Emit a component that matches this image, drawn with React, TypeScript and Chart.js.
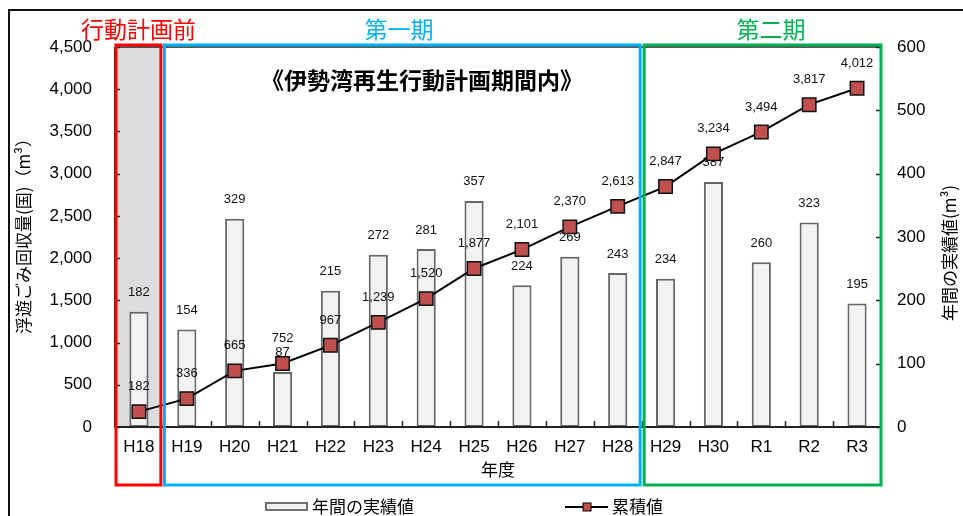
import React, { useEffect, useRef } from "react";
import { Chart, registerables } from "chart.js";

Chart.register(...registerables);

// ---- data ----
const categories = ["H18", "H19", "H20", "H21", "H22", "H23", "H24", "H25", "H26", "H27", "H28", "H29", "H30", "R1", "R2", "R3"];
const annualValues = [182, 154, 329, 87, 215, 272, 281, 357, 224, 269, 243, 234, 387, 260, 323, 195];
const cumulativeValues = [182, 336, 665, 752, 967, 1239, 1520, 1877, 2101, 2370, 2613, 2847, 3234, 3494, 3817, 4012];
const leftTickValues = [0, 500, 1000, 1500, 2000, 2500, 3000, 3500, 4000, 4500];
const rightTickValues = [0, 100, 200, 300, 400, 500, 600];
const periodLabels = ["行動計画前", "第一期", "第二期"];
const periodStart = [0, 1, 11];
const periodEnd = [0, 10, 15];
const annualLabel = "年間の実績値";
const cumulativeLabel = "累積値";
const titleText = "《伊勢湾再生行動計画期間内》";
const leftAxisTitle = "浮遊ごみ回収量(国)（m³）";
const rightAxisTitle = "年間の実績値(m³)";
const xAxisTitle = "年度";

const FONT = "'Liberation Sans', 'Noto Sans CJK JP', sans-serif";
const JP = "'Noto Sans CJK JP', 'Liberation Sans', sans-serif";
const periodColors = ["#ff0000", "#00b0f0", "#00b050"];
const fmt = (v: number) => v.toLocaleString("en-US");

const decorPlugin = {
  id: "decor",
  beforeDatasetsDraw(chart: any) {
    const { ctx, chartArea: a, scales } = chart;
    const x = scales.x;
    const half = (x.getPixelForValue(1) - x.getPixelForValue(0)) / 2;
    const l = x.getPixelForValue(0) - half;
    ctx.save();
    ctx.fillStyle = "#dcdcdc";
    ctx.fillRect(l, a.top, 2 * half - 2, a.bottom - a.top);
    ctx.restore();
  },
  afterDatasetDraw(chart: any, args: any) {
    if (args.index !== 1) return;
    const { ctx } = chart;
    const meta = chart.getDatasetMeta(1);
    ctx.save();
    ctx.font = `13px ${FONT}`;
    ctx.fillStyle = "#111";
    ctx.textAlign = "center";
    ctx.textBaseline = "middle";
    meta.data.forEach((el: any, i: number) => {
      ctx.fillText(fmt(annualValues[i]), el.x, el.y - 19);
    });
    ctx.restore();
  },
  afterDatasetsDraw(chart: any) {
    const { ctx, chartArea: a, scales } = chart;
    const x = scales.x;
    const y = scales.y;
    const y1 = scales.y1;
    const half = (x.getPixelForValue(1) - x.getPixelForValue(0)) / 2;

    // cumulative labels
    const meta = chart.getDatasetMeta(0);
    ctx.save();
    ctx.font = `13px ${FONT}`;
    ctx.fillStyle = "#111";
    ctx.textAlign = "center";
    ctx.textBaseline = "middle";
    meta.data.forEach((el: any, i: number) => {
      ctx.fillText(fmt(cumulativeValues[i]), el.x, el.y - 25);
    });
    ctx.restore();

    // plot frame & axes
    ctx.save();
    ctx.strokeStyle = "#222";
    ctx.lineWidth = 1.5;
    ctx.beginPath();
    ctx.moveTo(a.left, a.top);
    ctx.lineTo(a.right, a.top);
    ctx.stroke();
    ctx.lineWidth = 2;
    ctx.beginPath();
    ctx.moveTo(a.left, a.top);
    ctx.lineTo(a.left, a.bottom);
    ctx.lineTo(a.right, a.bottom);
    ctx.lineTo(a.right, a.top);
    ctx.stroke();
    // tick marks (inward)
    ctx.lineWidth = 1.5;
    ctx.beginPath();
    leftTickValues.forEach((v) => {
      const py = Math.round(y.getPixelForValue(v)) + 0.5;
      ctx.moveTo(a.left, py);
      ctx.lineTo(a.left + 5, py);
    });
    rightTickValues.forEach((v) => {
      const py = Math.round(y1.getPixelForValue(v)) + 0.5;
      ctx.moveTo(a.right - 5, py);
      ctx.lineTo(a.right, py);
    });
    for (let i = 1; i < categories.length; i++) {
      const px = Math.round(x.getPixelForValue(i) - half) + 0.5;
      ctx.moveTo(px, a.bottom);
      ctx.lineTo(px, a.bottom - 6);
    }
    ctx.stroke();
    ctx.restore();

    // period rectangles and labels
    ctx.save();
    ctx.lineWidth = 3;
    const insetL = [1, 1.5, 2.5];
    const insetR = [2, 1.5, 0];
    periodLabels.forEach((lab, k) => {
      const l = x.getPixelForValue(periodStart[k]) - half + insetL[k];
      const r = x.getPixelForValue(periodEnd[k]) + half - insetR[k];
      const t = a.top - 2;
      const b = a.bottom + 58;
      ctx.strokeStyle = periodColors[k];
      ctx.strokeRect(l, t, r - l, b - t);
      ctx.fillStyle = periodColors[k];
      ctx.font = `23px ${JP}`;
      ctx.textAlign = "center";
      ctx.textBaseline = "middle";
      const cx = k === 0 ? (l + r) / 2 : k === 1 ? 399 : 771;
      ctx.fillText(lab, cx, 29);
    });
    ctx.restore();

    // title
    ctx.save();
    ctx.fillStyle = "#000";
    ctx.font = `bold 23px ${JP}`;
    ctx.textAlign = "center";
    ctx.textBaseline = "middle";
    ctx.fillText(titleText, 422, 80);

    // axis titles
    ctx.font = `17px ${JP}`;
    ctx.fillText(xAxisTitle, (a.left + a.right) / 2, 470);
    ctx.save();
    ctx.translate(24, 232);
    ctx.rotate(-Math.PI / 2);
    ctx.fillText(leftAxisTitle, 0, 0);
    ctx.restore();
    ctx.save();
    ctx.translate(950, 253);
    ctx.rotate(-Math.PI / 2);
    ctx.fillText(rightAxisTitle, 0, 0);
    ctx.restore();

    // legend
    ctx.fillStyle = "#f2f2f2";
    ctx.strokeStyle = "#707070";
    ctx.lineWidth = 2;
    ctx.fillRect(266, 503, 41, 7);
    ctx.strokeRect(266, 503, 41, 7);
    ctx.fillStyle = "#000";
    ctx.textAlign = "left";
    ctx.font = `17px ${JP}`;
    ctx.fillText(annualLabel, 312, 507);
    ctx.strokeStyle = "#000";
    ctx.lineWidth = 2;
    ctx.beginPath();
    ctx.moveTo(565, 507);
    ctx.lineTo(608, 507);
    ctx.stroke();
    ctx.fillStyle = "#c0504d";
    ctx.lineWidth = 1;
    ctx.fillRect(583, 503, 8, 8);
    ctx.strokeRect(583, 503, 8, 8);
    ctx.fillStyle = "#000";
    ctx.fillText(cumulativeLabel, 612, 507);

    // outer frame
    ctx.strokeStyle = "#111";
    ctx.lineWidth = 2;
    ctx.beginPath();
    ctx.moveTo(9, 516);
    ctx.lineTo(9, 10);
    ctx.lineTo(963, 10);
    ctx.stroke();
    ctx.restore();
  },
};

export default function App() {
  const ref = useRef<HTMLCanvasElement | null>(null);
  useEffect(() => {
    if (!ref.current) return;
    const chart = new Chart(ref.current, {
      type: "bar",
      data: {
        labels: categories,
        datasets: [
          {
            type: "line",
            label: cumulativeLabel,
            data: cumulativeValues,
            yAxisID: "y",
            borderColor: "#000",
            borderWidth: 2,
            pointStyle: "rect",
            pointRadius: 9.5,
            pointBackgroundColor: "#c0504d",
            pointBorderColor: "#111",
            pointBorderWidth: 1.5,
            tension: 0,
            order: 1,
          } as any,
          {
            type: "bar",
            label: annualLabel,
            data: annualValues,
            yAxisID: "y1",
            backgroundColor: "#f2f2f2",
            borderColor: "#666666",
            borderWidth: 2,
            borderSkipped: false,
            categoryPercentage: 1,
            barPercentage: 0.4,
            order: 2,
          } as any,
        ],
      },
      options: {
        responsive: false,
        animation: false,
        devicePixelRatio: 1,
        layout: { padding: { top: 47, left: 0, right: 0, bottom: 0 } },
        plugins: { legend: { display: false }, tooltip: { enabled: false }, title: { display: false } },
        scales: {
          x: {
            type: "category",
            offset: true,
            grid: { display: false, drawTicks: false },
            border: { display: false },
            ticks: { font: { size: 17, family: FONT }, color: "#000", padding: 10, maxRotation: 0, autoSkip: false },
            afterFit(s: any) { s.height = 89; },
          },
          y: {
            type: "linear",
            position: "left",
            min: 0,
            max: 4500,
            afterBuildTicks(s: any) { s.ticks = leftTickValues.map((v) => ({ value: v })); },
            ticks: { font: { size: 17, family: FONT }, color: "#000", padding: 23, callback: (v: any) => fmt(Number(v)) },
            grid: { display: false, drawTicks: false },
            border: { display: false },
            afterFit(s: any) { s.width = 115; },
          },
          y1: {
            type: "linear",
            position: "right",
            min: 0,
            max: 600,
            afterBuildTicks(s: any) { s.ticks = rightTickValues.map((v) => ({ value: v })); },
            ticks: { font: { size: 17, family: FONT }, color: "#000", padding: 16, callback: (v: any) => fmt(Number(v)) },
            grid: { display: false, drawTicks: false },
            border: { display: false },
            afterFit(s: any) { s.width = 82; },
          },
        },
      },
      plugins: [decorPlugin],
    });
    return () => chart.destroy();
  }, []);
  return (
    <div style={{ position: "absolute", left: 0, top: 0, width: 963, height: 516, background: "#fff" }}>
      <canvas ref={ref} width={963} height={516} style={{ display: "block" }} />
    </div>
  );
}
